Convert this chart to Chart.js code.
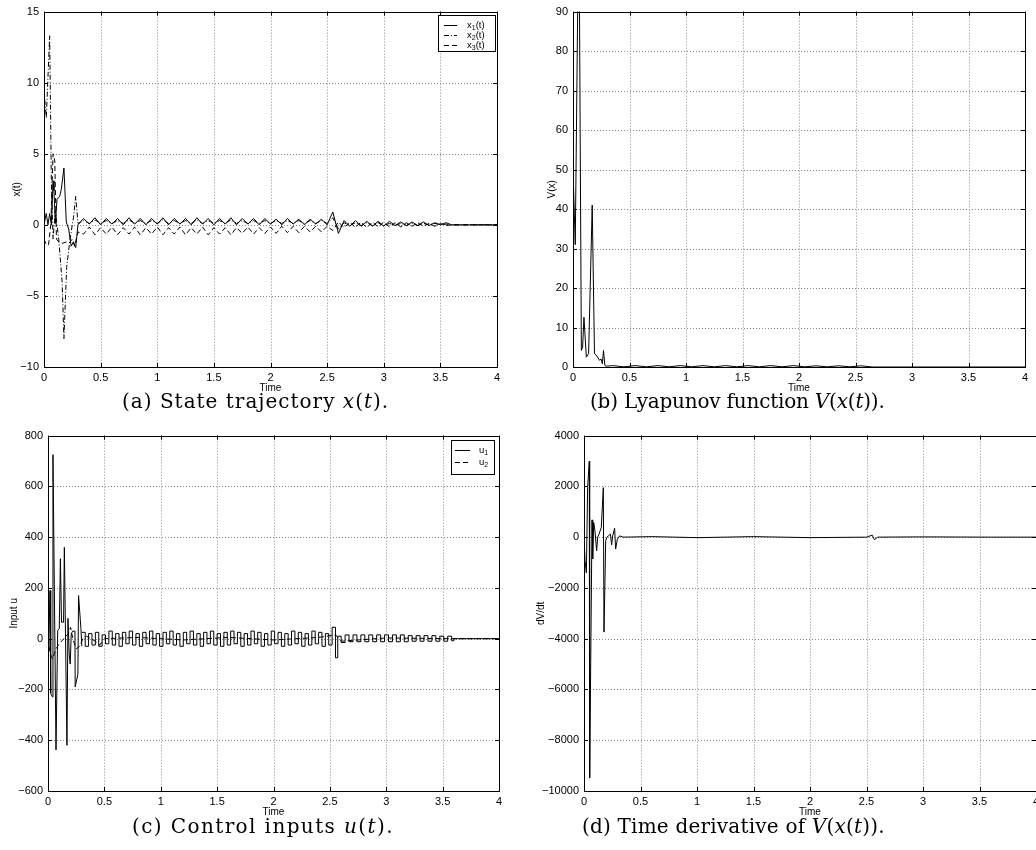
<!DOCTYPE html>
<html>
<head>
<meta charset="utf-8">
<script src="https://cdn.jsdelivr.net/npm/chart.js@4.4.1/dist/chart.umd.min.js"></script>
<style>
  body { margin: 0; background: #fff; width: 1036px; height: 850px; overflow: hidden; position: relative; }
  canvas { position: absolute; }
  .cap { position: absolute; font-family: "DejaVu Serif", serif; font-size: 20px; letter-spacing: 1px; line-height: 24px; color: #000; white-space: nowrap; }
</style>
</head>
<body>
<canvas id="chartA" width="518" height="394" style="left:0;top:0"></canvas>
<canvas id="chartB" width="516" height="394" style="left:520px;top:0"></canvas>
<canvas id="chartC" width="518" height="394" style="left:0;top:424px"></canvas>
<canvas id="chartD" width="530" height="394" style="left:520px;top:424px"></canvas>

<div class="cap" style="left:122px;top:389px">(a) State trajectory <i>x</i>(<i>t</i>).</div>
<div class="cap" style="left:590px;top:389px;letter-spacing:-0.2px">(b) Lyapunov function <i>V</i>(<i>x</i>(<i>t</i>)).</div>
<div class="cap" style="left:132px;top:814px;letter-spacing:1.4px">(c) Control inputs <i>u</i>(<i>t</i>).</div>
<div class="cap" style="left:582px;top:814px;letter-spacing:0.2px">(d) Time derivative of <i>V</i>(<i>x</i>(<i>t</i>)).</div>

<script>
// ---- data ----

// common time grid for the settled part of x(t)
const tTail = [0.30,0.35,0.40,0.45,0.50,0.55,0.60,0.65,0.70,0.75,0.80,0.85,0.90,0.95,1.00,1.05,1.10,1.15,1.20,1.25,
  1.30,1.35,1.40,1.45,1.50,1.55,1.60,1.65,1.70,1.75,1.80,1.85,1.90,1.95,2.00,2.05,2.10,2.15,2.20,2.25,
  2.30,2.35,2.40,2.45,2.50,2.55,2.60,2.65,2.70,2.75,2.80,2.85,2.90,2.95,3.00,3.05,3.10,3.15,3.20,3.25,
  3.30,3.35,3.40,3.45,3.50,3.55,3.60,4.00];

// x1(t) solid
const tX1 = [0,0.02,0.035,0.05,0.065,0.08,0.088,0.1,0.115,0.138,0.153,0.176,0.197,0.218,0.24,0.26,0.28];
const x1Head = [0,0.8,0,0.8,0,3.1,2.4,0.1,1.8,2.0,2.5,4.0,0.2,-0.3,-1.5,-1.2,-1.6];
const x1Tail = [0,0.45,0.05,0.5,0,0.45,0.05,0.45,0,0.5,0.05,0.45,0,0.45,0.05,0.5,0,0.45,0.05,0.45,
  0,0.5,0.05,0.45,0,0.45,0.05,0.5,0,0.45,0.05,0.45,0,0.45,0.05,0.4,0,0.45,0.05,0.4,
  0,0.4,0.05,0.4,0,0.9,-0.6,0.3,-0.1,0.3,-0.1,0.25,-0.1,0.25,-0.1,0.25,-0.05,0.2,-0.05,0.2,
  -0.05,0.2,-0.05,0.15,0,0.15,0,0];

// x2(t) dash-dot
const tX2 = [0,0.02,0.05,0.065,0.08,0.1,0.13,0.16,0.176,0.2,0.23,0.26,0.28];
const x2Head = [9.5,7.5,13.3,3,-1,1,-1,-4,-8,-3,-1,0.5,2];
const x2Tail = [0.1,0.3,0.1,0.35,0.1,0.3,0.1,0.3,0.1,0.35,0.1,0.3,0.1,0.3,0.1,0.35,0.1,0.3,0.1,0.3,
  0.1,0.35,0.1,0.3,0.1,0.3,0.1,0.35,0.1,0.3,0.1,0.3,0.1,0.3,0.1,0.3,0.1,0.3,0.1,0.3,
  0.1,0.3,0.1,0.3,0.1,0.5,-0.3,0.15,-0.05,0.15,-0.05,0.15,-0.05,0.15,-0.05,0.1,-0.05,0.1,-0.05,0.1,
  -0.05,0.1,0,0.1,0,0.05,0,0];

// x3(t) dashed
const tX3 = [0,0.02,0.04,0.06,0.08,0.095,0.11,0.13,0.16,0.2,0.22,0.25,0.27];
const x3Head = [-1,-1.4,-1.4,0,5,4.5,-1,-1.2,-1.3,-1.2,-1.3,-1.0,-1.5];
const x3Tail = [-0.5,-0.65,-0.15,-0.7,-0.2,-0.65,-0.15,-0.7,-0.2,-0.65,-0.15,-0.7,-0.2,-0.65,-0.15,-0.7,-0.2,-0.65,-0.15,-0.7,
  -0.2,-0.65,-0.15,-0.7,-0.2,-0.65,-0.2,-0.7,-0.2,-0.6,-0.15,-0.65,-0.2,-0.6,-0.15,-0.6,-0.1,-0.55,-0.1,-0.55,
  -0.1,-0.5,-0.1,-0.5,-0.1,-0.4,0.2,-0.2,0.2,-0.2,0.2,-0.2,0.2,-0.15,0.2,-0.15,0.15,-0.15,0.15,-0.1,
  0.15,-0.1,0.1,-0.1,0.1,-0.05,0,0];

// V(x(t))
const tV = [0,0.02,0.052,0.074,0.085,0.097,0.118,0.138,0.17,0.19,0.206,0.235,0.25,0.26,0.27,0.282,0.294,
  0.35,0.45,0.55,0.65,0.75,0.85,0.95,1.05,1.15,1.25,1.35,1.45,1.55,1.65,1.75,1.85,1.95,2.05,2.15,2.25,2.35,2.45,2.55,2.65,4.0];
const vVals = [50,31,120,4.2,5,12.6,2.5,3.4,41,3.4,3,1.7,2,0.8,4.2,0.4,0.2,
  0.35,0.05,0.35,0.05,0.35,0.05,0.35,0.05,0.35,0.05,0.35,0.05,0.35,0.05,0.35,0.05,0.35,0.05,0.3,0.05,0.3,0.05,0.3,0,0];

// u1 solid: transient part, then zero-order-hold part
const tU1 = [0,0.006,0.018,0.024,0.038,0.044,0.071,0.086,0.1,0.11,0.12,0.138,0.145,0.168,0.177,0.188,0.197,0.206,0.22,0.239,0.241,0.265,0.271,0.292,0.30];
const u1Head = [0,-46,190,-215,-229,725,-438,33,40,315,65,65,360,-420,80,-60,-100,20,30,30,-190,-140,170,40,-30];
const tU1Tail = [0.30,0.33,0.36,0.39,0.42,0.45,0.48,0.51,0.54,0.57,0.60,0.63,0.66,0.69,0.72,0.75,0.78,0.81,0.84,0.87,
  0.90,0.93,0.96,0.99,1.02,1.05,1.08,1.11,1.14,1.17,1.20,1.23,1.26,1.29,1.32,1.35,1.38,1.41,1.44,1.47,
  1.50,1.53,1.56,1.59,1.62,1.65,1.68,1.71,1.74,1.77,1.80,1.83,1.86,1.89,1.92,1.95,1.98,2.01,2.04,2.07,
  2.10,2.13,2.16,2.19,2.22,2.25,2.28,2.31,2.34,2.37,2.40,2.43,2.46,2.49,2.52,2.55,2.57,2.60,
  2.635,2.67,2.705,2.74,2.775,2.81,2.845,2.88,2.915,2.95,2.985,3.02,3.055,3.09,3.125,3.16,3.195,3.23,3.265,3.30,
  3.335,3.37,3.405,3.44,3.475,3.51,3.545,3.58,3.60,4.00];
const u1Tail = [25,-30,20,-25,25,-30,15,-20,30,-25,20,-30,25,-20,30,-25,20,-30,25,-20,
  30,-25,20,-30,25,-20,30,-25,20,-30,25,-20,30,-25,20,-30,25,-20,30,-25,
  20,-30,25,-25,30,-20,25,-30,20,-25,30,-20,25,-30,20,-25,30,-20,25,-30,
  20,-25,30,-20,25,-30,20,-25,30,-20,25,-30,20,-25,45,-75,10,-15,
  15,-12,15,-12,15,-12,15,-12,15,-12,15,-12,15,-12,15,-12,12,-10,12,-10,
  12,-10,12,-10,10,-10,10,-8,0,0];

// u2 dashed
const tU2 = [0,0.02,0.04,0.07,0.1,0.14,0.18,0.2,0.22,0.25,0.28,0.31,0.34,0.42,0.46,0.5,0.8,1.2,1.6,2.0,2.4,2.55,2.6,3.0,3.6,4.0];
const u2Vals = [0,-60,-80,-40,-20,0,20,45,0,-40,-30,0,10,-10,-25,0,5,-5,5,-5,5,15,-10,3,0,0];

// dV/dt
const tD = [0,0.009,0.021,0.032,0.047,0.05,0.071,0.077,0.086,0.097,0.112,0.121,0.133,0.153,0.171,0.177,0.192,0.204,0.215,
  0.233,0.245,0.254,0.271,0.28,0.295,0.316,0.345,0.6,1.0,1.5,2.0,2.5,2.55,2.57,2.6,3.0,3.6,4.0];
const dVals = [0,-930,-1410,1950,2990,-9490,680,-860,575,250,-540,0,120,380,1950,-3740,-140,0,50,
  120,-300,50,350,-470,-80,50,0,20,-20,20,-20,0,80,-100,0,10,0,0];

// legend labels: [symbol, subscript, rest]
const legendA = [['x', '1', '(t)'], ['x', '2', '(t)'], ['x', '3', '(t)']];
const legendC = [['u', '1', ''], ['u', '2', '']];

const SOLID = [], DASHDOT = [5, 2, 1, 2], DASHED = [5, 3];
const SANS = "'Liberation Sans', Arial, sans-serif";

function pts(ts, vs) {
  return ts.map((t, i) => ({ x: t, y: vs[i] }));
}
function fmt(v) {
  return String(v).replace('-', '\u2212');
}

// box around the axes, inward ticks on all sides, dotted grid
const frame = {
  id: 'frame',
  beforeDatasetsDraw(chart) {
    const { ctx, chartArea: a, scales } = chart;
    ctx.save();
    ctx.strokeStyle = '#8a8a8a';
    ctx.lineWidth = 1;
    ctx.setLineDash([1, 2]);
    ctx.beginPath();
    scales.x.ticks.forEach(t => {
      const px = Math.round(scales.x.getPixelForValue(t.value)) + 0.5;
      if (px < a.left + 2 || px > a.right - 2) return;
      ctx.moveTo(px, a.top); ctx.lineTo(px, a.bottom);
    });
    scales.y.ticks.forEach(t => {
      const py = Math.round(scales.y.getPixelForValue(t.value)) + 0.5;
      if (py < a.top + 2 || py > a.bottom - 2) return;
      ctx.moveTo(a.left, py); ctx.lineTo(a.right, py);
    });
    ctx.stroke();
    ctx.restore();
  },
  afterDraw(chart) {
    const { ctx, chartArea: a, scales } = chart;
    ctx.save();
    ctx.strokeStyle = '#000';
    ctx.lineWidth = 1;
    ctx.setLineDash([]);
    ctx.strokeRect(Math.round(a.left) + 0.5, Math.round(a.top) + 0.5, Math.round(a.right - a.left), Math.round(a.bottom - a.top));
    ctx.beginPath();
    scales.x.ticks.forEach(t => {
      const px = Math.round(scales.x.getPixelForValue(t.value)) + 0.5;
      ctx.moveTo(px, a.bottom); ctx.lineTo(px, a.bottom - 4);
      ctx.moveTo(px, a.top); ctx.lineTo(px, a.top + 4);
    });
    scales.y.ticks.forEach(t => {
      const py = Math.round(scales.y.getPixelForValue(t.value)) + 0.5;
      ctx.moveTo(a.left, py); ctx.lineTo(a.left + 4, py);
      ctx.moveTo(a.right, py); ctx.lineTo(a.right - 4, py);
    });
    ctx.stroke();
    ctx.restore();
  }
};

// boxed legend inside the top-right corner, with subscripts
const boxLegend = {
  id: 'boxLegend',
  afterDraw(chart, args, o) {
    if (!o.items || !o.items.length) return;
    const { ctx, chartArea: a } = chart;
    const x0 = Math.round(a.right - o.right - o.width), y0 = Math.round(a.top + o.top);
    ctx.save();
    ctx.fillStyle = '#fff';
    ctx.fillRect(x0, y0, o.width, o.height);
    ctx.strokeStyle = '#000';
    ctx.lineWidth = 1;
    ctx.setLineDash([]);
    ctx.strokeRect(x0 + 0.5, y0 + 0.5, o.width, o.height);
    o.items.forEach((it, i) => {
      const y = y0 + o.first + i * o.step;
      ctx.setLineDash(o.dashes[i]);
      ctx.beginPath();
      ctx.moveTo(x0 + o.lineFrom, y + 0.5);
      ctx.lineTo(x0 + o.lineTo, y + 0.5);
      ctx.stroke();
      ctx.setLineDash([]);
      ctx.fillStyle = '#000';
      ctx.textBaseline = 'middle';
      let tx = x0 + o.textAt;
      ctx.font = '9.5px ' + SANS;
      ctx.fillText(it[0], tx, y);
      tx += ctx.measureText(it[0]).width;
      ctx.font = '7px ' + SANS;
      ctx.fillText(it[1], tx, y + 3);
      tx += ctx.measureText(it[1]).width;
      if (it[2]) {
        ctx.font = '9.5px ' + SANS;
        ctx.fillText(it[2], tx, y);
      }
    });
    ctx.restore();
  }
};

function line(data, dash, extra) {
  return Object.assign({
    data: data,
    borderColor: '#000',
    borderWidth: 1,
    borderDash: dash,
    pointRadius: 0,
    fill: false,
    tension: 0
  }, extra || {});
}

function makePanel(id, p) {
  return new Chart(document.getElementById(id), {
    type: 'line',
    data: { datasets: p.datasets },
    options: {
      responsive: false,
      animation: false,
      events: [],
      layout: { padding: { left: 0, right: p.padRight, top: 10, bottom: 0 } },
      plugins: {
        legend: { display: false },
        tooltip: { enabled: false },
        boxLegend: p.legend || { items: [] }
      },
      scales: {
        x: {
          type: 'linear', min: 0, max: 4,
          grid: { display: false, drawTicks: false },
          border: { display: false },
          ticks: {
            stepSize: 0.5, autoSkip: false, maxRotation: 0, padding: 4,
            color: '#000', font: { family: SANS, size: 11 },
            callback: v => fmt(v)
          },
          title: { display: true, text: 'Time', color: '#000', font: { family: SANS, size: 10 }, padding: { top: 0, bottom: 0 } },
          afterFit: s => { s.height = 27; }
        },
        y: {
          type: 'linear', min: p.yMin, max: p.yMax,
          grid: { display: false, drawTicks: false },
          border: { display: false },
          ticks: {
            stepSize: p.yStep, autoSkip: false, padding: 5,
            color: '#000', font: { family: SANS, size: 11 },
            callback: v => fmt(v)
          },
          title: { display: true, text: p.yTitle, color: '#000', font: { family: SANS, size: 10 }, padding: { top: p.titlePad, bottom: 0 } },
          afterFit: s => { s.width = p.yWidth; }
        }
      }
    },
    plugins: [frame, boxLegend]
  });
}

makePanel('chartA', {
  datasets: [
    line(pts(tX3.concat(tTail), x3Head.concat(x3Tail)), DASHED),
    line(pts(tX2.concat(tTail), x2Head.concat(x2Tail)), DASHDOT),
    line(pts(tX1.concat(tTail), x1Head.concat(x1Tail)), SOLID)
  ],
  yMin: -10, yMax: 15, yStep: 5, yTitle: 'x(t)', yWidth: 44, titlePad: 11, padRight: 21,
  legend: { items: legendA, dashes: [SOLID, DASHDOT, DASHED], right: 2, top: 3, width: 57, height: 36, first: 10, step: 10, lineFrom: 6, lineTo: 19, textAt: 29 }
});

makePanel('chartB', {
  datasets: [line(pts(tV, vVals), SOLID)],
  yMin: 0, yMax: 90, yStep: 10, yTitle: 'V(x)', yWidth: 53, titlePad: 26, padRight: 11
});

makePanel('chartC', {
  datasets: [
    line(pts(tU2, u2Vals), DASHED),
    line(pts(tU1, u1Head), SOLID),
    line(pts(tU1Tail, u1Tail), SOLID, { stepped: 'before' })
  ],
  yMin: -600, yMax: 800, yStep: 200, yTitle: 'Input u', yWidth: 48, titlePad: 8, padRight: 19,
  legend: { items: legendC, dashes: [SOLID, DASHED], right: 5, top: 4, width: 43, height: 34, first: 10, step: 12, lineFrom: 4, lineTo: 19, textAt: 28 }
});

makePanel('chartD', {
  datasets: [line(pts(tD, dVals), SOLID)],
  yMin: -10000, yMax: 4000, yStep: 2000, yTitle: 'dV/dt', yWidth: 64, titlePad: 15, padRight: 14
});
</script>
</body>
</html>
